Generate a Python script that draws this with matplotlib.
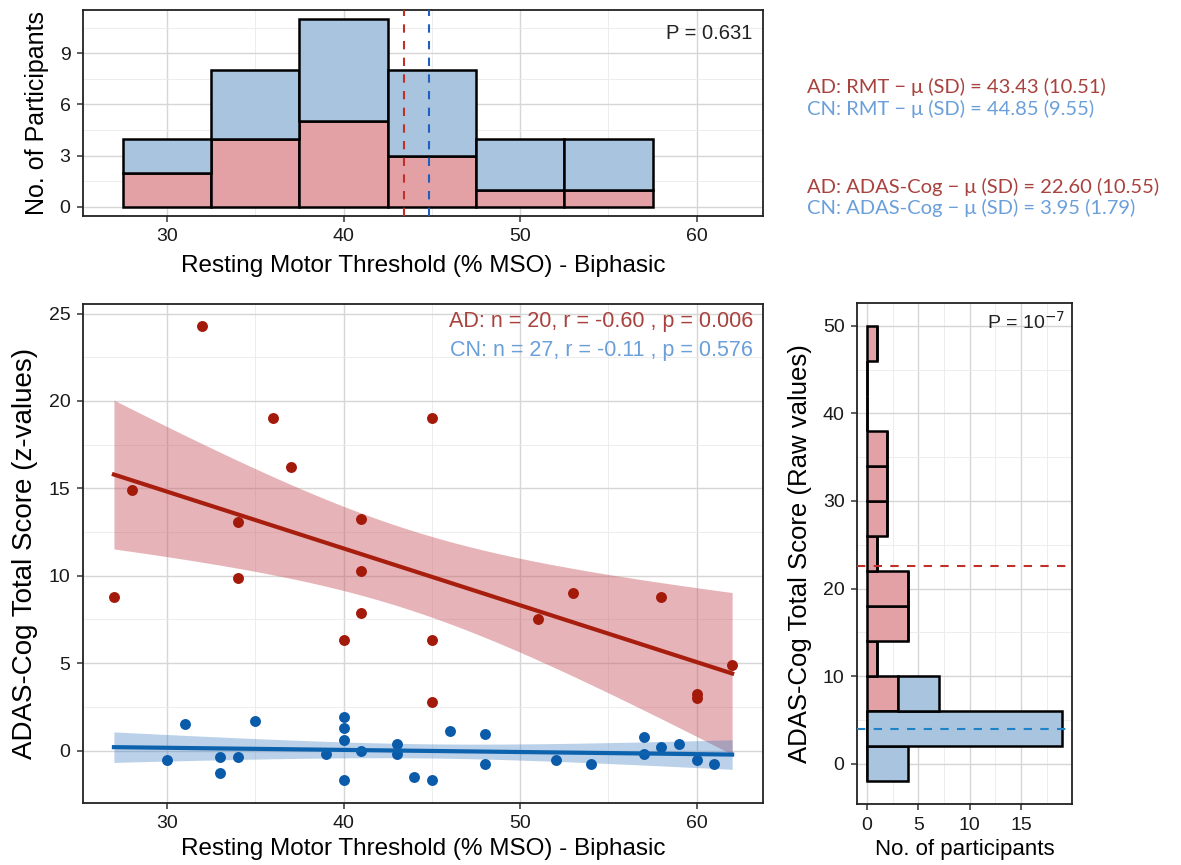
import matplotlib
matplotlib.use("Agg")
import matplotlib.pyplot as plt
import numpy as np

# ---- data ----
rmt_bins = [30, 35, 40, 45, 50, 55]
rmt_ad = [2, 4, 5, 3, 1, 1]
rmt_cn = [2, 4, 6, 5, 3, 3]
rmt_mean_ad = 43.43
rmt_mean_cn = 44.85

adas_bins = [0, 4, 8, 12, 16, 20, 24, 28, 32, 36, 40, 44, 48]
adas_ad = [0, 0, 3, 1, 4, 4, 1, 2, 2, 2, 0, 0, 1]
adas_cn = [4, 19, 4, 0, 0, 0, 0, 0, 0, 0, 0, 0, 0]
adas_mean_ad = 22.60
adas_mean_cn = 3.95

ad_x = [27, 28, 32, 34, 34, 36, 37, 40, 41, 41, 41, 45, 45, 45, 51, 53, 58, 60, 60, 62]
ad_y = [8.8, 14.9, 24.3, 13.1, 9.9, 19.0, 16.2, 6.35, 13.25, 10.25, 7.85, 19.0, 6.35,
        2.8, 7.5, 9.0, 8.8, 3.25, 3.0, 4.9]
cn_x = [30, 31, 33, 33, 34, 35, 39, 40, 40, 40, 40, 41, 43, 43, 44, 45, 46, 48, 48,
        52, 54, 57, 57, 58, 59, 60, 61]
cn_y = [-0.55, 1.5, -0.35, -1.3, -0.35, 1.7, -0.2, 1.9, 1.3, 0.6, -1.7, 0.0, 0.4, -0.2,
        -1.5, -1.7, 1.1, 0.95, -0.75, -0.55, -0.75, 0.75, -0.2, 0.2, 0.4, -0.55, -0.75]

t_ad = 2.101   # t(0.975, 18)
t_cn = 2.060   # t(0.975, 25)

RED_FILL = "#E3A1A6"
BLUE_FILL = "#A9C4DF"
RED_PT = "#A31A0A"
BLUE_PT = "#0A5BAA"
RED_TXT = "#A8423E"
BLUE_TXT = "#6A9FDA"
GRID_MAJ = "#D6D6D6"
GRID_MIN = "#EAEAEA"

SANS = ["Liberation Sans", "DejaVu Sans"]
SUMMARY = ["Lato", "DejaVu Sans"]

plt.rcParams["font.family"] = SANS


def style_axes(ax, xmaj, xmin, ymaj, ymin):
    ax.set_xticks(xmaj)
    ax.set_xticks(xmin, minor=True)
    ax.set_yticks(ymaj)
    ax.set_yticks(ymin, minor=True)
    ax.grid(which="major", color=GRID_MAJ, lw=1.0, zorder=0)
    ax.grid(which="minor", color=GRID_MIN, lw=0.6, zorder=0)
    ax.set_axisbelow(True)
    ax.tick_params(which="major", direction="out", length=4, width=1.1, color="#333333",
                   labelsize=14, labelcolor="#1a1a1a", pad=5)
    ax.tick_params(which="minor", length=0)
    for s in ax.spines.values():
        s.set_color("#222222")
        s.set_linewidth(1.3)


def fit_band(x, y, t, xs):
    x = np.asarray(x, float)
    y = np.asarray(y, float)
    b, a = np.polyfit(x, y, 1)
    n = len(x)
    resid = y - (a + b * x)
    s = np.sqrt(np.sum(resid ** 2) / (n - 2))
    sxx = np.sum((x - x.mean()) ** 2)
    fit = a + b * xs
    se = s * np.sqrt(1.0 / n + (xs - x.mean()) ** 2 / sxx)
    return fit, fit - t * se, fit + t * se


fig = plt.figure(figsize=(11.81, 8.65), dpi=100)

# ---- top histogram ----
ax1 = fig.add_axes([0.0703, 0.7503, 0.5758, 0.2382])
ax1.bar(rmt_bins, rmt_ad, width=5, color=RED_FILL, edgecolor="black", lw=1.8, zorder=2)
ax1.bar(rmt_bins, rmt_cn, width=5, bottom=rmt_ad, color=BLUE_FILL, edgecolor="black",
        lw=1.8, zorder=2)
ax1.axvline(rmt_mean_ad, color="#C0302A", ls=(0, (4, 4)), lw=1.5, zorder=3)
ax1.axvline(rmt_mean_cn, color="#1F5FC0", ls=(0, (4, 4)), lw=1.5, zorder=3)
ax1.set_xlim(25.25, 63.75)
ax1.set_ylim(-0.55, 11.55)
style_axes(ax1, [30, 40, 50, 60], [35, 45, 55], [0, 3, 6, 9], [1.5, 4.5, 7.5, 10.5])
ax1.set_xlabel("Resting Motor Threshold (% MSO) - Biphasic", fontsize=17.5, labelpad=7)
ax1.set_ylabel("No. of Participants", fontsize=18, labelpad=8)
ax1.text(0.985, 0.93, "P = 0.631", transform=ax1.transAxes, ha="right", va="top",
         fontsize=14.5, color="#222222")

# ---- scatter ----
ax2 = fig.add_axes([0.0703, 0.0717, 0.5758, 0.5769])
allx = np.array(ad_x + cn_x, float)
xs = np.linspace(allx.min(), allx.max(), 100)
fa, la, ua = fit_band(ad_x, ad_y, t_ad, xs)
fc, lc, uc = fit_band(cn_x, cn_y, t_cn, xs)
ax2.fill_between(xs, la, ua, color="#C95A62", alpha=0.45, lw=0, zorder=2)
ax2.fill_between(xs, lc, uc, color="#3C7CC0", alpha=0.35, lw=0, zorder=2)
ax2.scatter(ad_x, ad_y, s=62, color=RED_PT, zorder=3, lw=0)
ax2.scatter(cn_x, cn_y, s=62, color=BLUE_PT, zorder=3, lw=0)
ax2.plot(xs, fa, color="#A81E0E", lw=3, zorder=4)
ax2.plot(xs, fc, color="#0D62AE", lw=3, zorder=4)
ax2.set_xlim(25.25, 63.75)
ax2.set_ylim(-3.0, 25.55)
style_axes(ax2, [30, 40, 50, 60], [35, 45, 55], [0, 5, 10, 15, 20, 25],
           [2.5, 7.5, 12.5, 17.5, 22.5])
ax2.set_xlabel("Resting Motor Threshold (% MSO) - Biphasic", fontsize=17.5, labelpad=4)
ax2.set_ylabel("ADAS-Cog Total Score (z-values)", fontsize=20, labelpad=8)
ax2.text(0.985, 0.985, "AD: n = 20, r = -0.60 , p = 0.006", transform=ax2.transAxes,
         ha="right", va="top", fontsize=15.5, color=RED_TXT)
ax2.text(0.985, 0.928, "CN: n = 27, r = -0.11 , p = 0.576", transform=ax2.transAxes,
         ha="right", va="top", fontsize=15.5, color=BLUE_TXT)

# ---- right histogram ----
ax3 = fig.add_axes([0.7257, 0.0705, 0.1820, 0.5792])
ax3.barh(adas_bins, adas_ad, height=4, color=RED_FILL, edgecolor="black", lw=1.8, zorder=2)
ax3.barh(adas_bins, adas_cn, height=4, left=adas_ad, color=BLUE_FILL, edgecolor="black",
         lw=1.8, zorder=2)
ax3.axhline(adas_mean_ad, color="#C0302A", ls=(0, (4, 4)), lw=1.5, zorder=3)
ax3.axhline(adas_mean_cn, color="#1E82C8", ls=(0, (4, 4)), lw=1.5, zorder=3)
ax3.set_xlim(-0.95, 19.95)
ax3.set_ylim(-4.6, 52.6)
style_axes(ax3, [0, 5, 10, 15], [2.5, 7.5, 12.5, 17.5], [0, 10, 20, 30, 40, 50],
           [5, 15, 25, 35, 45])
ax3.set_xlabel("No. of participants", fontsize=16, labelpad=4)
ax3.set_ylabel("ADAS-Cog Total Score (Raw values)", fontsize=18.5, labelpad=8)
ax3.text(0.97, 0.985, r"P = 10$^{-7}$", transform=ax3.transAxes, ha="right", va="top",
         fontsize=14, color="#222222")

# ---- summary text ----
fig.text(0.683, 0.899, "AD: RMT \u2212 \u03bc (SD) = 43.43 (10.51)", fontsize=14.5,
         family=SUMMARY, color=RED_TXT, va="center")
fig.text(0.683, 0.874, "CN: RMT \u2212 \u03bc (SD) = 44.85 (9.55)", fontsize=14.5,
         family=SUMMARY, color=BLUE_TXT, va="center")
fig.text(0.683, 0.784, "AD: ADAS-Cog \u2212 \u03bc (SD) = 22.60 (10.55)", fontsize=14.5,
         family=SUMMARY, color=RED_TXT, va="center")
fig.text(0.683, 0.759, "CN: ADAS-Cog \u2212 \u03bc (SD) = 3.95 (1.79)", fontsize=14.5,
         family=SUMMARY, color=BLUE_TXT, va="center")

fig.savefig("out.png", dpi=100)
